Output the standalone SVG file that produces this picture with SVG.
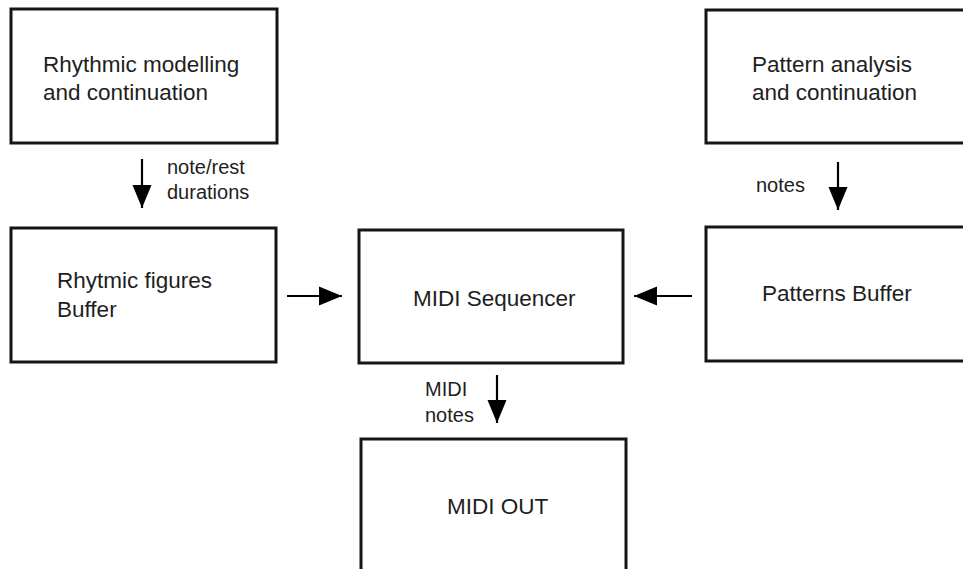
<svg xmlns="http://www.w3.org/2000/svg" width="963" height="569" viewBox="0 0 963 569">
<defs>
<style>
.box{fill:#fff;stroke:#151515;stroke-width:3}
.lbl{font-family:"Liberation Sans",Arial,sans-serif;font-size:22.5px;fill:#1e1e1e}
.sm{font-family:"Liberation Sans",Arial,sans-serif;font-size:20px;fill:#1e1e1e}
.conn{stroke:#000;stroke-width:2.2;fill:none;marker-end:url(#ah)}
</style>
<marker id="ah" markerUnits="userSpaceOnUse" markerWidth="24" markerHeight="20" refX="23" refY="10" orient="auto" viewBox="0 0 24 20">
<path d="M0,0.5 L23,10 L0,19.5 Z" fill="#000"/>
</marker>
</defs>
<rect width="963" height="569" fill="#fff"/>
<g id="rhythmic-modelling">
<rect class="box" x="11" y="9" width="266" height="134"/>
<text class="lbl" x="43" y="72">Rhythmic modelling</text>
<text class="lbl" x="43" y="100">and continuation</text>
</g>
<g id="pattern-analysis">
<rect class="box" x="706" y="10" width="270" height="133"/>
<text class="lbl" x="752" y="72">Pattern analysis</text>
<text class="lbl" x="752" y="100">and continuation</text>
</g>
<g id="rhythmic-buffer">
<rect class="box" x="11" y="228" width="265" height="134"/>
<text class="lbl" x="57" y="288">Rhytmic figures</text>
<text class="lbl" x="57" y="317">Buffer</text>
</g>
<g id="midi-sequencer">
<rect class="box" x="359" y="230" width="264" height="133"/>
<text class="lbl" x="413" y="306">MIDI Sequencer</text>
</g>
<g id="patterns-buffer">
<rect class="box" x="706" y="227" width="270" height="134"/>
<text class="lbl" x="762" y="301">Patterns Buffer</text>
</g>
<g id="midi-out">
<rect class="box" x="361" y="439" width="265" height="200"/>
<text class="lbl" x="447" y="514">MIDI OUT</text>
</g>
<g id="connectors">
<line class="conn" x1="142" y1="159" x2="142" y2="208"/>
<line class="conn" x1="838" y1="162" x2="838" y2="210"/>
<line class="conn" x1="287" y1="296" x2="342" y2="296"/>
<line class="conn" x1="692" y1="296" x2="634" y2="296"/>
<line class="conn" x1="497" y1="375" x2="497" y2="423"/>
<text class="sm" x="167" y="174">note/rest</text>
<text class="sm" x="167" y="199">durations</text>
<text class="sm" x="756" y="192">notes</text>
<text class="sm" x="425" y="396">MIDI</text>
<text class="sm" x="425" y="422">notes</text>
</g>
</svg>
